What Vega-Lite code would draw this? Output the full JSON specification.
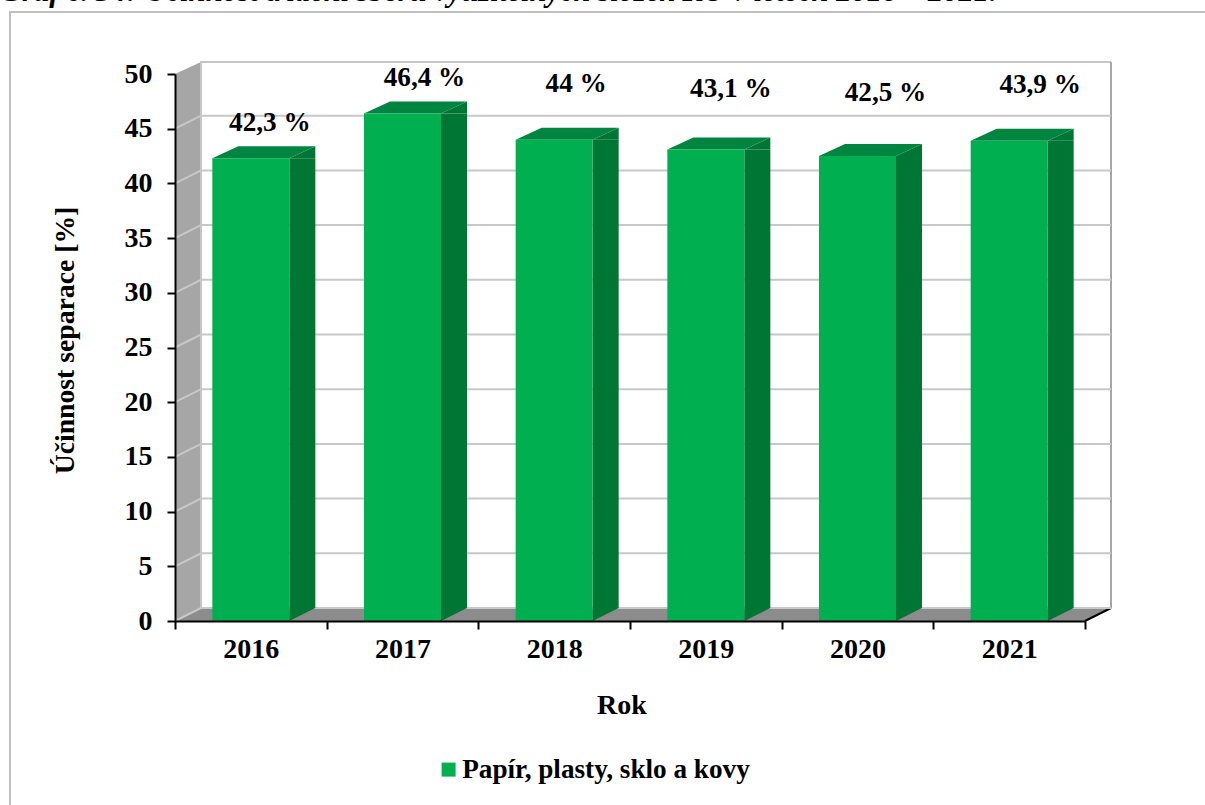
{
"$schema":"https://vega.github.io/schema/vega-lite/v6.json",
"width":936,"height":559,
"autosize":"none",
"padding":{"left":175,"top":62,"right":94,"bottom":184},
"background":"white",
"view":{"stroke":null},
"config":{"font":"Liberation Serif","axis":{"labelFont":"Liberation Serif","titleFont":"Liberation Serif","labelFontWeight":"bold","titleFontWeight":"bold","labelColor":"black","titleColor":"black","domainColor":"black","tickColor":"black","domainWidth":2,"tickWidth":2,"grid":false}},
"data":{"values":[
{"rok":"2016","hodnota":42.3,"popisek":"42,3 %","slozka":"Papír, plasty, sklo a kovy"},
{"rok":"2017","hodnota":46.4,"popisek":"46,4 %","slozka":"Papír, plasty, sklo a kovy"},
{"rok":"2018","hodnota":44,"popisek":"44 %","slozka":"Papír, plasty, sklo a kovy"},
{"rok":"2019","hodnota":43.1,"popisek":"43,1 %","slozka":"Papír, plasty, sklo a kovy"},
{"rok":"2020","hodnota":42.5,"popisek":"42,5 %","slozka":"Papír, plasty, sklo a kovy"},
{"rok":"2021","hodnota":43.9,"popisek":"43,9 %","slozka":"Papír, plasty, sklo a kovy"}
]},
"encoding":{
"x":{"field":"rok","type":"ordinal","scale":{"domain":["2016","2017","2018","2019","2020","2021"],"range":[0,910],"paddingInner":0,"paddingOuter":0},"axis":{"title":"Rok","titleFontSize":28,"titleX":446.5,"titleY":92,"titleBaseline":"alphabetic","labelAngle":0,"labelFontSize":28,"labelPadding":6,"tickSize":8,"tickBand":"extent","zindex":1}},
"y":{"field":"hodnota","type":"quantitative","scale":{"domain":[0,50],"range":[559,12],"nice":false,"zero":true},"axis":{"title":"Účinnost separace [%]","titleFontSize":27.7,"titleX":-96,"titleY":278,"values":[0,5,10,15,20,25,30,35,40,45,50],"labelFontSize":28,"labelPadding":15,"tickSize":8,"zindex":1}}
},
"layer":[
{"data":{"values":[{"rok":"2016","hodnota":50,"nadpis":"Graf č. 34: Účinnost  třídění sběru využitelných složek KO v letech 2016 – 2021."}]},"mark":{"type":"text","font":"Liberation Serif","fontWeight":"bold","fontStyle":"italic","fontSize":30.6,"color":"black","align":"left","baseline":"alphabetic","dx":-250.83,"dy":-73.5},"encoding":{"text":{"field":"nadpis"}}},
{"data":{"values":[{"rok":"2016","hodnota":0}]},"mark":{"type":"point","shape":"M-240.83,190 L-240.83,-609 L970,-609","filled":false,"size":4,"stroke":"#c0c0c0","strokeWidth":2,"opacity":1}},
{"data":{"values":[{"rok":"2016","hodnota":0}]},"mark":{"type":"point","shape":"M-75.83,0 L-49.83,-13 L-49.83,-559 L-75.83,-547 Z","filled":true,"size":4,"fill":"#a6a6a6","opacity":1,"strokeWidth":0}},
{"data":{"values":[{"rok":"2016","hodnota":0}]},"mark":{"type":"point","shape":"M-75.83,0 L-49.83,-13 L860.17,-13 L834.17,0 Z","filled":true,"size":4,"fill":"#8c8c8c","opacity":1,"strokeWidth":0}},
{"data":{"values":[{"rok":"2016","hodnota":0}]},"mark":{"type":"point","shape":"M-49.83,-13 L-49.83,-559 L860.17,-559","filled":false,"size":4,"stroke":"#c6c6c6","strokeWidth":2,"opacity":1}},
{"data":{"values":[{"rok":"2016","hodnota":0}]},"mark":{"type":"point","shape":"M860.17,-13 L860.17,-559","filled":false,"size":4,"stroke":"#a6a6a6","strokeWidth":2,"opacity":1}},
{"data":{"values":[{"rok":"2016","hodnota":0}]},"mark":{"type":"point","shape":"M834.17,0 L860.17,-13","filled":false,"size":4,"stroke":"black","strokeWidth":2,"opacity":1}},
{"data":{"values":[{"rok":"2016","hodnota":0},{"rok":"2016","hodnota":5},{"rok":"2016","hodnota":10},{"rok":"2016","hodnota":15},{"rok":"2016","hodnota":20},{"rok":"2016","hodnota":25},{"rok":"2016","hodnota":30},{"rok":"2016","hodnota":35},{"rok":"2016","hodnota":40},{"rok":"2016","hodnota":45}]},
"mark":{"type":"point","shape":"M-75.83,0 L-49.83,-13 L860.17,-13","filled":false,"size":4,"stroke":"#c8c8c8","strokeWidth":2,"opacity":1}},
{"mark":{"type":"bar","size":26,"xOffset":51.5,"y2Offset":-13,"fill":"#007635"},"encoding":{"y2":{"datum":0}}},
{"mark":{"type":"point","shape":"M38.5,0 L64.5,-12 L64.5,0 Z","filled":true,"size":4,"fill":"#007635","opacity":1,"strokeWidth":0}},
{"data":{"values":[{"rok":"2016","hodnota":0},{"rok":"2017","hodnota":0},{"rok":"2018","hodnota":0},{"rok":"2019","hodnota":0},{"rok":"2020","hodnota":0},{"rok":"2021","hodnota":0}]},"mark":{"type":"point","shape":"M38.5,0 L64.5,-13 L38.5,-13 Z","filled":true,"size":4,"fill":"#007635","opacity":1,"strokeWidth":0}},
{"mark":{"type":"point","shape":"M-38.5,0 L38.5,0 L64.5,-12 L-12.5,-12 Z","filled":true,"size":4,"fill":"#008540","opacity":1,"strokeWidth":0}},
{"mark":{"type":"bar","size":77},
"encoding":{
"y2":{"datum":0},
"color":{"field":"slozka","type":"nominal","scale":{"range":["#00b050"]},"legend":{"title":null,"orient":"none","legendX":260,"legendY":694,"symbolType":"square","symbolSize":196,"symbolStrokeWidth":0,"symbolOpacity":1,"labelFont":"Liberation Serif","labelFontWeight":"bold","labelFontSize":27.2,"labelColor":"black","labelOffset":0,"labelLimit":400}}
}},
{"transform":[{"filter":"datum.rok=='2016'"}],"mark":{"type":"text","font":"Liberation Serif","fontWeight":"bold","fontSize":27.2,"color":"black","align":"center","baseline":"middle","dx":19,"dy":-35},"encoding":{"text":{"field":"popisek"}}},
{"transform":[{"filter":"datum.rok=='2017'"}],"mark":{"type":"text","font":"Liberation Serif","fontWeight":"bold","fontSize":27.2,"color":"black","align":"center","baseline":"middle","dx":22,"dy":-35},"encoding":{"text":{"field":"popisek"}}},
{"transform":[{"filter":"datum.rok=='2018'"}],"mark":{"type":"text","font":"Liberation Serif","fontWeight":"bold","fontSize":27.2,"color":"black","align":"center","baseline":"middle","dx":22,"dy":-55.6},"encoding":{"text":{"field":"popisek"}}},
{"transform":[{"filter":"datum.rok=='2019'"}],"mark":{"type":"text","font":"Liberation Serif","fontWeight":"bold","fontSize":27.2,"color":"black","align":"center","baseline":"middle","dx":25,"dy":-60.5},"encoding":{"text":{"field":"popisek"}}},
{"transform":[{"filter":"datum.rok=='2020'"}],"mark":{"type":"text","font":"Liberation Serif","fontWeight":"bold","fontSize":27.2,"color":"black","align":"center","baseline":"middle","dx":28,"dy":-63},"encoding":{"text":{"field":"popisek"}}},
{"transform":[{"filter":"datum.rok=='2021'"}],"mark":{"type":"text","font":"Liberation Serif","fontWeight":"bold","fontSize":27.2,"color":"black","align":"center","baseline":"middle","dx":31,"dy":-55.7},"encoding":{"text":{"field":"popisek"}}}
]
}
